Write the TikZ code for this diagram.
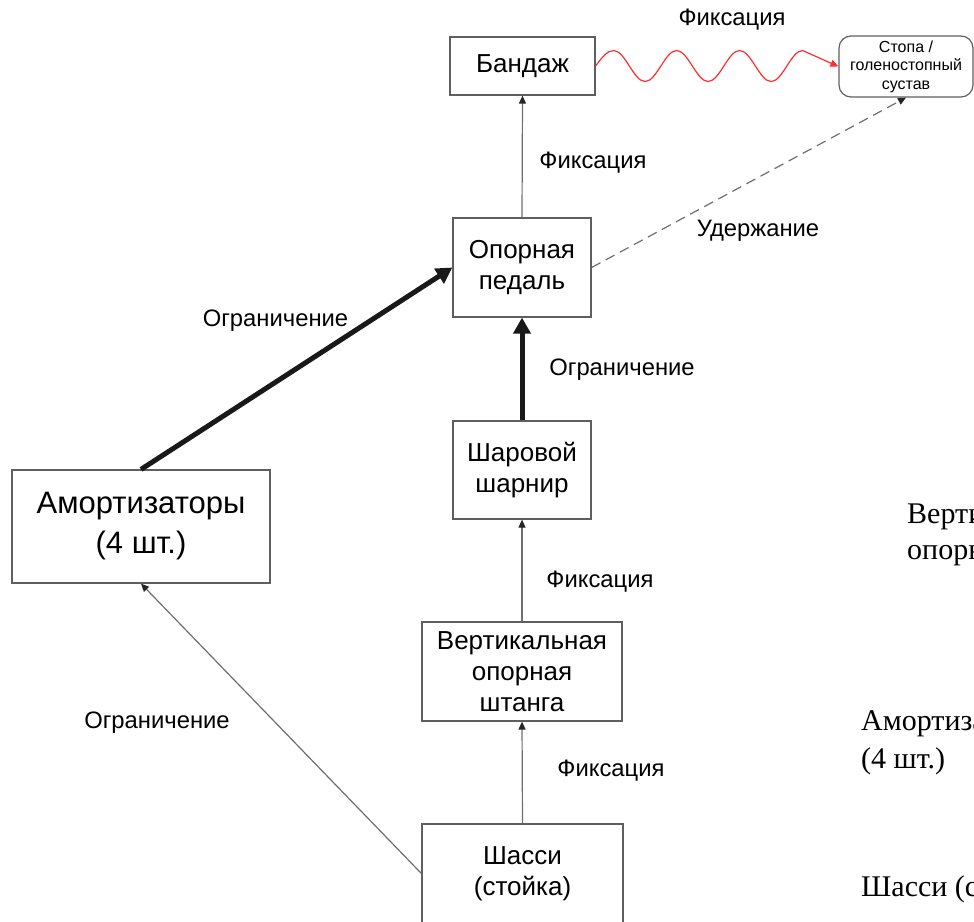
\documentclass[tikz,border=0pt]{standalone}
\usepackage{fontspec}
\setmainfont{Liberation Sans}
\newfontfamily\ghostserif{Liberation Serif}
\usetikzlibrary{arrows.meta}
\definecolor{boxline}{RGB}{95,95,95}
\definecolor{conn}{RGB}{110,110,110}
\definecolor{wavered}{RGB}{255,45,45}
\begin{document}
\begin{tikzpicture}[x=1pt,y=-1pt,
  box/.style={draw=boxline, line width=1.2pt, inner sep=0pt, align=center,
    font=\fontsize{26}{31}\selectfont},
  lbl/.style={inner sep=0pt, font=\fontsize{23.8}{27}\selectfont},
  ghost/.style={inner sep=0pt, anchor=base west, font=\ghostserif\fontsize{30}{34}\selectfont},
  thinarrow/.style={draw=conn, line width=1.2pt,
    -{Triangle[length=8pt,width=7pt,color=black!85]}},
  thickarrow/.style={draw=black!90, line width=5pt,
    -{Triangle[length=16pt,width=17pt]}},
  dasharrow/.style={draw=conn, line width=1.2pt, dash pattern=on 10pt off 6pt,
    -{Triangle[length=8pt,width=7pt,color=black!85]}},
  wavearrow/.style={draw=wavered, line width=1.2pt,
    -{Triangle[length=8pt,width=7pt]}}
]
\useasboundingbox (0,0) rectangle (974,921);
\clip (0,0) rectangle (974,921);

% nodes
\node[box, minimum width=145pt, minimum height=58pt] (band) at (522.5,66) {Бандаж};
\node[box, rounded corners=12pt, minimum width=134pt, minimum height=61pt,
  font=\fontsize{16}{18.5}\selectfont] (foot) at (906,66.5) {Стопа /\\голеностопный\\сустав};
\node[box, minimum width=138pt, minimum height=99pt] (pedal) at (522,267.5) {Опорная\\педаль};
\node[box, minimum width=138pt, minimum height=98pt] (ball) at (522,470) {Шаровой\\шарнир};
\node[box, minimum width=200pt, minimum height=99pt] (rod) at (522,671.5) {Вертикальная\\опорная\\штанга};
\node[box, minimum width=201pt, minimum height=99pt] (chassis) at (522.5,873.5) {Шасси\\(стойка)};
\node[box, minimum width=258pt, minimum height=113pt,
  font=\fontsize{31}{40}\selectfont] (shock) at (141,526.5) {Амортизаторы\\(4 шт.)};

% connectors
\draw[wavearrow] (band.east) sin ++(18,-15.5)
  cos ++(15.75,15.5) sin ++(15.75,15.5) cos ++(15.75,-15.5) sin ++(15.75,-15.5)
  cos ++(15.75,15.5) sin ++(15.75,15.5) cos ++(15.75,-15.5) sin ++(15.75,-15.5)
  cos ++(15.75,15.5) sin ++(15.75,15.5) cos ++(15.75,-15.5) sin ++(15.75,-15.5)
  -- (foot.west);
\draw[thinarrow] (pedal.north) -- (band.south);
\draw[thickarrow] (ball.north) -- (pedal.south);
\draw[thinarrow] (rod.north) -- (ball.south);
\draw[thinarrow] (chassis.north) -- (rod.south);
\draw[thickarrow] (shock.north) -- (pedal.west);
\draw[thinarrow] (chassis.west) -- (shock.south);
\draw[dasharrow] (pedal.east) -- (foot.south);

% labels
\node[lbl] (l1) at (732,20) {Фиксация};
\node[lbl] (l2) at (593,163) {Фиксация};
\node[lbl] (l3) at (758,231) {Удержание};
\node[lbl] (l4) at (275.5,321) {Ограничение};
\node[lbl] (l5) at (622,370) {Ограничение};
\node[lbl] (l6) at (600,582) {Фиксация};
\node[lbl] (l7) at (611,771) {Фиксация};
\node[lbl] (l8) at (157,723) {Ограничение};

% serif texts cut off by the right edge, as in the reference
\node[ghost] (g1) at (907,523) {Вертикальная};
\node[ghost] (g2) at (907,559) {опорная штанга};
\node[ghost] (g3) at (861,730) {Амортизаторы};
\node[ghost] (g4) at (861,768) {(4 шт.)};
\node[ghost] (g5) at (861,896) {Шасси (стойка)};
\end{tikzpicture}
\end{document}
